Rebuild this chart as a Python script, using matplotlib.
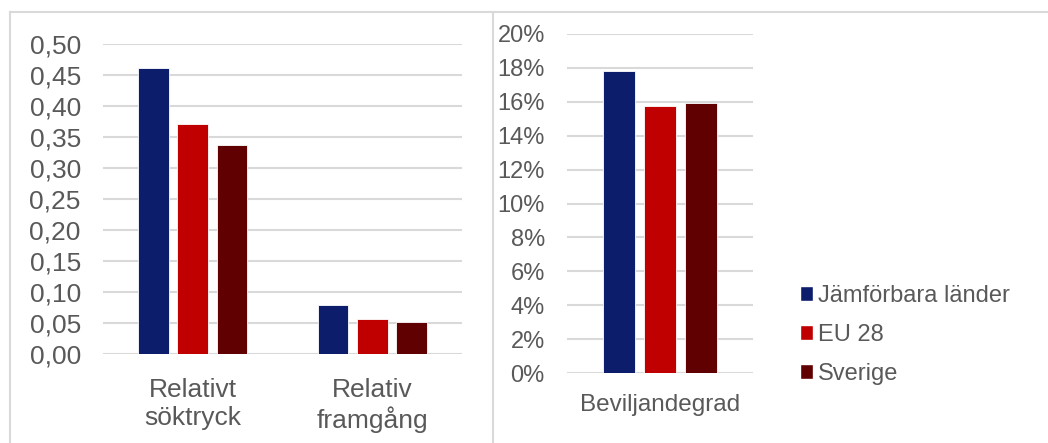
import numpy as np
import matplotlib
matplotlib.use('Agg')
import matplotlib.pyplot as plt
from matplotlib.lines import Line2D
from matplotlib.patches import Patch

plt.rcParams['font.family'] = ['Liberation Sans', 'DejaVu Sans']

# Data
series = ['Jämförbara länder', 'EU 28', 'Sverige']
colors = ['#0c1d6c', '#c00000', '#600000']

left_cats = ['Relativt\nsöktryck', 'Relativ\nframgång']
left_vals = [[0.461, 0.079],   # Jämförbara länder
             [0.371, 0.056],   # EU 28
             [0.337, 0.052]]   # Sverige
left_ticks = [0.00, 0.05, 0.10, 0.15, 0.20, 0.25, 0.30, 0.35, 0.40, 0.45, 0.50]

right_cats = ['Beviljandegrad']
right_vals = [[0.178], [0.1575], [0.159]]
right_ticks = [0.00, 0.02, 0.04, 0.06, 0.08, 0.10, 0.12, 0.14, 0.16, 0.18, 0.20]

txt = '#595959'
grid = '#d9d9d9'

fig = plt.figure(figsize=(10.48, 4.43), dpi=100)
W, H = 1048, 443

def px_axes(x0, y0, x1, y1):
    return fig.add_axes([x0 / W, 1 - y1 / H, (x1 - x0) / W, (y1 - y0) / H])

def style(ax, ticks, fmt, yfs, xfs, xpad):
    ax.set_yticks(ticks)
    ax.set_yticklabels([fmt(t) for t in ticks])
    for s in ax.spines.values():
        s.set_visible(False)
    ax.tick_params(axis='y', length=0, pad=16, labelsize=yfs, labelcolor=txt)
    ax.tick_params(axis='x', length=0, pad=xpad, labelsize=xfs, labelcolor=txt)
    for lab in ax.get_xticklabels():
        lab.set_linespacing(1.22)
    ax.yaxis.grid(True, color=grid, linewidth=1.5)
    ax.set_axisbelow(True)

offsets = [-0.22, 0.0, 0.22]
width = 0.17

# Left panel
ax1 = px_axes(103, 44, 462, 354)
x = np.arange(len(left_cats))
for vals, c, o in zip(left_vals, colors, offsets):
    ax1.bar(x + o, vals, width, color=c, edgecolor='white', linewidth=0.6)
ax1.set_xlim(-0.5, len(left_cats) - 0.5)
ax1.set_ylim(0, 0.5)
ax1.set_xticks(x)
ax1.set_xticklabels(left_cats)
style(ax1, left_ticks, lambda t: f'{t:.2f}'.replace('.', ','), 19, 19, 17)

# Right panel
ax2 = px_axes(567, 34, 753, 373)
x = np.arange(len(right_cats))
for vals, c, o in zip(right_vals, colors, offsets):
    ax2.bar(x + o, vals, width, color=c, edgecolor='white', linewidth=0.6)
ax2.set_xlim(-0.5, 0.5)
ax2.set_ylim(0, 0.2)
ax2.set_xticks(x)
ax2.set_xticklabels(right_cats)
style(ax2, right_ticks, lambda t: f'{round(t * 100)}%', 17, 17.5, 15)

handles = [Patch(facecolor=c, edgecolor='white') for c in colors]
fig.legend(handles, series, loc='upper left', bbox_to_anchor=(788 / W, 1 - 273 / H),
           frameon=False, fontsize=17, labelcolor=txt, handlelength=0.55,
           handleheight=0.55, handletextpad=0.2, labelspacing=0.72, borderpad=0)

# panel borders
bc = '#d9d9d9'
fig.add_artist(Line2D([10 / W, 1], [1 - 12 / H, 1 - 12 / H], color=bc, lw=1.5,
                      transform=fig.transFigure))
for xb in (10, 493):
    fig.add_artist(Line2D([xb / W, xb / W], [0, 1 - 12 / H], color=bc, lw=1.5,
                          transform=fig.transFigure))

fig.savefig('out.png', dpi=100)
